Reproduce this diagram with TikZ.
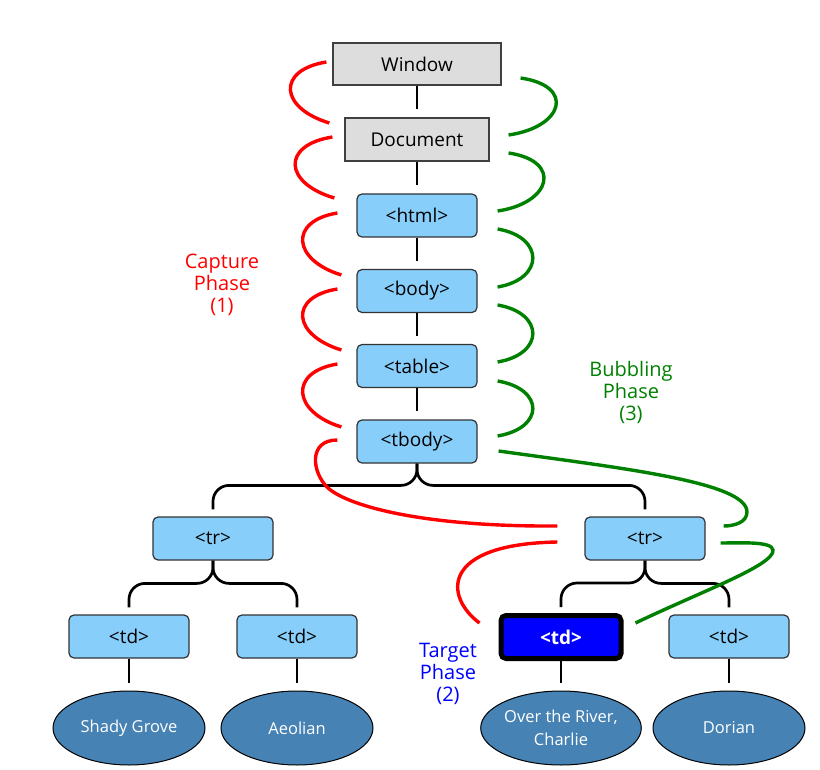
\documentclass[tikz,border=0pt]{standalone}
\usepackage{fontspec}
\setmainfont{Open Sans}
\usetikzlibrary{calc, shapes.geometric}

\definecolor{boxgray}{HTML}{DDDDDD}
\definecolor{domblue}{HTML}{87CEFA}
\definecolor{leafblue}{HTML}{4682B4}
\definecolor{phasegreen}{HTML}{008000}

\tikzset{
    winbox/.style={draw=black!75, fill=boxgray, line width=1.2pt, minimum height=42pt, inner sep=0pt, font=\fontsize{19}{22}\selectfont},
    dombox/.style={draw=black!80, fill=domblue, rounded corners=5pt, line width=1.2pt, minimum width=120pt, minimum height=43pt, inner sep=0pt, font=\fontsize{19}{22}\selectfont},
    targetbox/.style={dombox, draw=black, fill=blue, line width=5pt, text=white, font=\fontsize{19}{22}\selectfont\bfseries},
    leaf/.style={ellipse, draw=black, fill=leafblue, line width=1pt, minimum width=152pt, minimum height=74pt, inner sep=0pt, text=white, align=center, font=\fontsize{16.5}{23}\selectfont},
    link/.style={line width=2.7pt},
    capture/.style={red, line width=3.4pt},
    bubble/.style={phasegreen, line width=3.4pt},
    phase/.style={align=center, font=\fontsize{20}{22}\selectfont}
}

\begin{document}
\begin{tikzpicture}[x=1pt, y=-1pt]
    \useasboundingbox (0,0) rectangle (820,770);

    % DOM tree
    \node[winbox, minimum width=168pt] (win) at (417,64) {Window};
    \node[winbox, minimum width=144pt, minimum height=43pt] (doc) at (417,139.5) {Document};
    \node[dombox] (html) at (417,215.5) {<html>};
    \node[dombox] (body) at (417,291) {<body>};
    \node[dombox] (table) at (417,366) {<table>};
    \node[dombox] (tbody) at (417,441.5) {<tbody>};
    \node[dombox] (trL) at (213,538.5) {<tr>};
    \node[dombox] (trR) at (645,538.5) {<tr>};
    \node[dombox] (tdA) at (129,636.5) {<td>};
    \node[dombox] (tdB) at (297,636.5) {<td>};
    \node[targetbox] (tdT) at (561,637) {<td>};
    \node[dombox] (tdD) at (729,636.5) {<td>};
    \node[leaf] (shady) at (129,728) {Shady Grove};
    \node[leaf] (aeolian) at (297,728) {Aeolian};
    \node[leaf] (river) at (561,728) {Over the River,\\Charlie};
    \node[leaf] (dorian) at (729,728) {Dorian};

    % phase labels
    \node[phase, red] (capture) at (222,285) {Capture\\Phase\\(1)};
    \node[phase, phasegreen] (bubbling) at (631,392.5) {Bubbling\\Phase\\(3)};
    \node[phase, blue] (target) at (448,674) {Target\\Phase\\(2)};

    % tree links
    \foreach \a/\b in {win/doc, doc/html, html/body, body/table, table/tbody, tdA/shady, tdB/aeolian, tdT/river, tdD/dorian}
        \draw[link, shorten >=8pt] (\a) -- (\b);
    \draw[link, rounded corners=16pt] (tbody.south) |- ($(trL.north)+(0,-31)$) -- ($(trL.north)+(0,-7)$);
    \draw[link, rounded corners=16pt] (tbody.south) |- ($(trR.north)+(0,-31)$) -- ($(trR.north)+(0,-7)$);
    \draw[link, rounded corners=16pt] (trL.south) |- ($(tdA.north)+(0,-31)$) -- ($(tdA.north)+(0,-7)$);
    \draw[link, rounded corners=16pt] (trL.south) |- ($(tdB.north)+(0,-31)$) -- ($(tdB.north)+(0,-7)$);
    \draw[link, rounded corners=16pt] (trR.south) |- ($(tdT.north)+(0,-30)$) -- ($(tdT.north)+(0,-6)$);
    \draw[link, rounded corners=16pt] (trR.south) |- ($(tdD.north)+(0,-31)$) -- ($(tdD.north)+(0,-7)$);

    % capture phase
    \draw[capture] ($(win.west)+(-6,-2)$) .. controls +(-50,8) and +(-50,-15) .. ($(doc.west)+(-15,-16.5)$);
    \draw[capture] ($(doc.west)+(-12,-2.5)$) .. controls +(-51,8) and +(-51,-15) .. ($(html.west)+(-22,-17.5)$);
    \draw[capture] ($(html.west)+(-19,-2.5)$) .. controls +(-49,8) and +(-49,-15) .. ($(body.west)+(-15,-16)$);
    \draw[capture] ($(body.west)+(-19,-2)$) .. controls +(-49,8) and +(-49,-15) .. ($(table.west)+(-15,-16)$);
    \draw[capture] ($(table.west)+(-19,-2)$) .. controls +(-49,8) and +(-49,-15) .. ($(tbody.west)+(-15,-14.5)$);
    \draw[capture] ($(tbody.west)+(-19,-1.5)$) .. controls (308,440) and (312,472) .. (327,487)
        .. controls (345,505) and (420,527) .. ($(trR.west)+(-27,-12.5)$);
    \draw[capture] ($(trR.west)+(-27,3.5)$) .. controls +(-118,2) and +(-35,-26) .. ($(tdT.west)+(-19,-14)$);

    % bubbling phase
    \draw[bubble] ($(win.east)+(19,14)$) .. controls +(55,8) and +(55,-8) .. ($(doc.east)+(19,-4.5)$);
    \draw[bubble] ($(doc.east)+(19,13.5)$) .. controls +(54,8) and +(54,-8) .. ($(html.east)+(20,-4.5)$);
    \draw[bubble] ($(html.east)+(20,13.5)$) .. controls +(47,8) and +(47,-8) .. ($(body.east)+(20,-4)$);
    \draw[bubble] ($(body.east)+(20,14)$) .. controls +(47,8) and +(47,-8) .. ($(table.east)+(20,-4)$);
    \draw[bubble] ($(table.east)+(20,15)$) .. controls +(47,8) and +(47,-8) .. ($(tbody.east)+(20,-5.5)$);
    \draw[bubble] ($(tbody.east)+(21,9.5)$) .. controls (620,468) and (747,482) .. (747,512)
        .. controls (747,522) and (735,526) .. ($(trR.east)+(18,-12.5)$);
    \draw[bubble] ($(tdT.east)+(12,-14)$) .. controls (700,592) and (775,565) .. (773,550)
        .. controls (772,541) and (740,543) .. ($(trR.east)+(15,4.5)$);
\end{tikzpicture}
\end{document}
